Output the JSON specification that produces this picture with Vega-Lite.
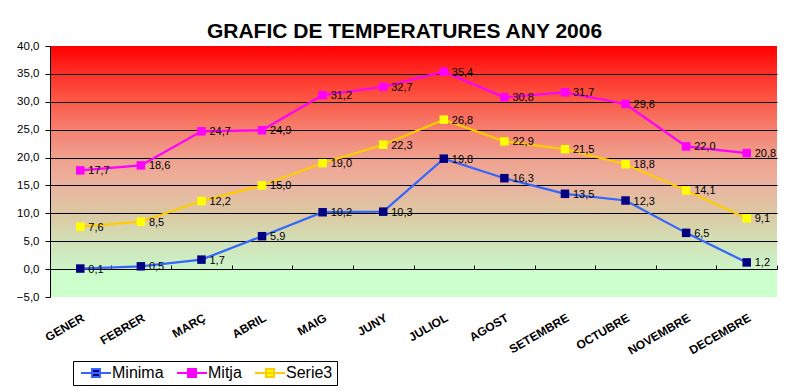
{
  "$schema": "https://vega.github.io/schema/vega-lite/v6.json",
  "width": 727,
  "height": 251,
  "autosize": {"type": "none"},
  "padding": {"left": 50, "top": 46, "right": 32, "bottom": 95},
  "background": "white",
  "title": {
    "text": "GRAFIC DE TEMPERATURES ANY 2006",
    "font": "Liberation Sans",
    "fontSize": 21,
    "fontWeight": "bold",
    "color": "black",
    "anchor": "middle",
    "frame": "group",
    "baseline": "alphabetic",
    "offset": 6,
    "dx": -9,
    "dy": 25
  },
  "config": {
    "locale": {"number": {"decimal": ",", "thousands": ".", "grouping": [3], "currency": ["", " €"]}},
    "view": {
      "stroke": null,
      "fill": {
        "gradient": "linear",
        "x1": 0, "y1": 0, "x2": 0, "y2": 1,
        "stops": [
          {"offset": 0, "color": "#ff0000"},
          {"offset": 0.111, "color": "#ff3028"},
          {"offset": 0.222, "color": "#fc5a48"},
          {"offset": 0.333, "color": "#f58070"},
          {"offset": 0.444, "color": "#f0a08e"},
          {"offset": 0.556, "color": "#eab4a0"},
          {"offset": 0.667, "color": "#dcc8a2"},
          {"offset": 0.778, "color": "#d2e0b6"},
          {"offset": 0.885, "color": "#ccf4c8"},
          {"offset": 0.9, "color": "#ccffcc"},
          {"offset": 1, "color": "#ccffcc"}
        ]
      }
    },
    "font": "Liberation Sans",
    "axis": {"labelColor": "black", "labelFont": "Liberation Sans"}
  },
  "data": {
    "values": [
      {"month": "GENER", "series": "Minima", "value": 0.1},
      {"month": "FEBRER", "series": "Minima", "value": 0.5},
      {"month": "MARÇ", "series": "Minima", "value": 1.7},
      {"month": "ABRIL", "series": "Minima", "value": 5.9},
      {"month": "MAIG", "series": "Minima", "value": 10.2},
      {"month": "JUNY", "series": "Minima", "value": 10.3},
      {"month": "JULIOL", "series": "Minima", "value": 19.8},
      {"month": "AGOST", "series": "Minima", "value": 16.3},
      {"month": "SETEMBRE", "series": "Minima", "value": 13.5},
      {"month": "OCTUBRE", "series": "Minima", "value": 12.3},
      {"month": "NOVEMBRE", "series": "Minima", "value": 6.5},
      {"month": "DECEMBRE", "series": "Minima", "value": 1.2},
      {"month": "GENER", "series": "Mitja", "value": 17.7},
      {"month": "FEBRER", "series": "Mitja", "value": 18.6},
      {"month": "MARÇ", "series": "Mitja", "value": 24.7},
      {"month": "ABRIL", "series": "Mitja", "value": 24.9},
      {"month": "MAIG", "series": "Mitja", "value": 31.2},
      {"month": "JUNY", "series": "Mitja", "value": 32.7},
      {"month": "JULIOL", "series": "Mitja", "value": 35.4},
      {"month": "AGOST", "series": "Mitja", "value": 30.8},
      {"month": "SETEMBRE", "series": "Mitja", "value": 31.7},
      {"month": "OCTUBRE", "series": "Mitja", "value": 29.6},
      {"month": "NOVEMBRE", "series": "Mitja", "value": 22.0},
      {"month": "DECEMBRE", "series": "Mitja", "value": 20.8},
      {"month": "GENER", "series": "Serie3", "value": 7.6},
      {"month": "FEBRER", "series": "Serie3", "value": 8.5},
      {"month": "MARÇ", "series": "Serie3", "value": 12.2},
      {"month": "ABRIL", "series": "Serie3", "value": 15.0},
      {"month": "MAIG", "series": "Serie3", "value": 19.0},
      {"month": "JUNY", "series": "Serie3", "value": 22.3},
      {"month": "JULIOL", "series": "Serie3", "value": 26.8},
      {"month": "AGOST", "series": "Serie3", "value": 22.9},
      {"month": "SETEMBRE", "series": "Serie3", "value": 21.5},
      {"month": "OCTUBRE", "series": "Serie3", "value": 18.8},
      {"month": "NOVEMBRE", "series": "Serie3", "value": 14.1},
      {"month": "DECEMBRE", "series": "Serie3", "value": 9.1}
    ]
  },
  "encoding": {
    "x": {
      "field": "month",
      "type": "nominal",
      "sort": ["GENER", "FEBRER", "MARÇ", "ABRIL", "MAIG", "JUNY", "JULIOL", "AGOST", "SETEMBRE", "OCTUBRE", "NOVEMBRE", "DECEMBRE"],
      "scale": {"type": "band", "paddingInner": 0, "paddingOuter": 0},
      "axis": {
        "title": null,
        "orient": "bottom",
        "offset": -28,
        "domain": false,
        "grid": false,
        "ticks": true,
        "tickBand": "extent",
        "tickColor": "black",
        "tickSize": -4,
        "labelAngle": -30,
        "labelFontSize": 12,
        "labelFontWeight": "bold",
        "labelPadding": 47,
        "labelColor": "black"
      }
    },
    "y": {
      "field": "value",
      "type": "quantitative",
      "scale": {"domain": [-5, 40], "nice": false, "zero": false},
      "axis": {
        "title": null,
        "values": [-5, 0, 5, 10, 15, 20, 25, 30, 35, 40],
        "format": ".1f",
        "labelFontSize": 11.5,
        "labelPadding": 6,
        "tickSize": 5,
        "tickColor": "black",
        "domainColor": "black",
        "domainWidth": 1,
        "grid": true,
        "gridColor": "black",
        "gridWidth": 1,
        "gridOpacity": {"condition": {"test": "datum.value == 40 || datum.value == -5", "value": 0}, "value": 1}
      }
    }
  },
  "layer": [
    {
      "mark": {"type": "line", "strokeWidth": 2.2},
      "encoding": {
        "color": {
          "field": "series",
          "type": "nominal",
          "scale": {"domain": ["Minima", "Mitja", "Serie3"], "range": ["#3366ff", "#ff00ff", "#ffcc00"]},
          "legend": null
        }
      }
    },
    {
      "mark": {"type": "point", "shape": "square", "filled": true, "size": 72, "opacity": 1},
      "encoding": {
        "color": {
          "field": "series",
          "type": "nominal",
          "scale": {"domain": ["Minima", "Mitja", "Serie3"], "range": ["#000080", "#ff00ff", "#ffff00"]},
          "legend": {
            "title": null,
            "orient": "none",
            "legendX": 23,
            "legendY": 315,
            "direction": "horizontal",
            "strokeColor": "black",
            "fillColor": "white",
            "padding": 4,
            "labelFont": "Liberation Sans",
            "labelFontSize": 16,
            "labelColor": "black",
            "labelOffset": 8,
            "columnPadding": 9,
            "symbolType": "M-3,0H3M-0.8,-0.8H0.8V0.8H-0.8Z",
            "symbolSize": 100,
            "symbolOffset": 11,
            "symbolStrokeWidth": 2,
            "symbolOpacity": 1,
            "encode": {
              "symbols": {
                "update": {
                  "stroke": {"signal": "datum.value === 'Minima' ? '#3366ff' : datum.value === 'Mitja' ? '#ff00ff' : '#ffcc00'"}
                }
              }
            }
          }
        }
      }
    },
    {
      "mark": {"type": "text", "align": "left", "baseline": "middle", "dx": 8, "dy": 1, "fontSize": 11, "font": "Liberation Sans", "color": "black"},
      "encoding": {
        "text": {"field": "value", "type": "quantitative", "format": ".1f"}
      }
    }
  ],
  "resolve": {"scale": {"color": "independent"}, "legend": {"color": "independent"}}
}
